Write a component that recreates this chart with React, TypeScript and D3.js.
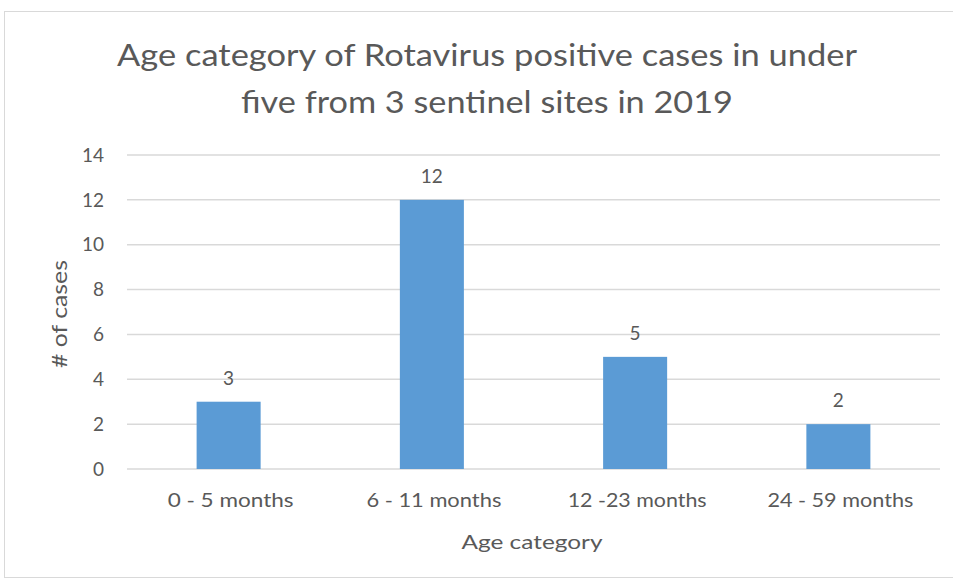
import React from "react";
import * as d3 from "d3";

const categories = ["0 - 5 months", "6 - 11 months", "12 -23 months", "24 - 59 months"];
const values = [3, 12, 5, 2];
const yTicks = [0, 2, 4, 6, 8, 10, 12, 14];
const titleLines = ["Age category of Rotavirus positive cases in under", "five from 3 sentinel sites in 2019"];
const xTitle = "Age category";
const yTitle = "# of cases";

const W = 953, H = 580;
const left = 127, right = 940, top = 155, bottom = 469;
const font = "Lato, 'Open Sans', sans-serif";
const textColor = "#595959";
const titleWidths = [740, 492];
const catWidths = [126, 135, 139, 146];

export default function App() {
  const x = d3.scaleBand<string>().domain(categories).range([left, right]).paddingInner(0.685).paddingOuter(0.3425);
  const y = d3.scaleLinear().domain([0, 14]).range([bottom, top]);
  return (
    <div style={{ position: "fixed", left: 0, top: 0 }}>
      <svg width={W} height={H} style={{ display: "block", background: "#fff" }}>
        <rect x={4.5} y={11.5} width={970} height={566} fill="#fff" stroke="#D9D9D9" strokeWidth={1} />
        {titleLines.map((t, i) => (
          <text key={i} x={487} y={66 + i * 47} textAnchor="middle" fontFamily={font} fontSize={31} fill={textColor}
            textLength={titleWidths[i]} lengthAdjust="spacingAndGlyphs">{t}</text>
        ))}
        {yTicks.map((t) => (
          <g key={t}>
            <line x1={left} x2={right} y1={y(t)} y2={y(t)} stroke="#D9D9D9" strokeWidth={1.5} />
            <text x={104} y={y(t)} dy="0.35em" textAnchor="end" fontFamily={font} fontSize={19} fill={textColor}>{t}</text>
          </g>
        ))}
        {categories.map((c, i) => (
          <g key={c}>
            <rect x={x(c)} y={y(values[i])} width={x.bandwidth()} height={y(0) - y(values[i])} fill="#5B9BD5" />
            <text x={x(c)! + x.bandwidth() / 2} y={y(values[i]) - 17} textAnchor="middle" fontFamily={font} fontSize={19} fill={textColor}>{values[i]}</text>
            <text x={x(c)! + x.bandwidth() / 2 + 2} y={507} textAnchor="middle" fontFamily={font} fontSize={19} fill={textColor}
              textLength={catWidths[i]} lengthAdjust="spacingAndGlyphs">{c}</text>
          </g>
        ))}
        <text x={532} y={549} textAnchor="middle" fontFamily={font} fontSize={20} fill={textColor}
          textLength={141} lengthAdjust="spacingAndGlyphs">{xTitle}</text>
        <text transform={`translate(67, 314) rotate(-90)`} textAnchor="middle" fontFamily={font} fontSize={21} fill={textColor}
          textLength={108} lengthAdjust="spacingAndGlyphs">{yTitle}</text>
      </svg>
    </div>
  );
}
